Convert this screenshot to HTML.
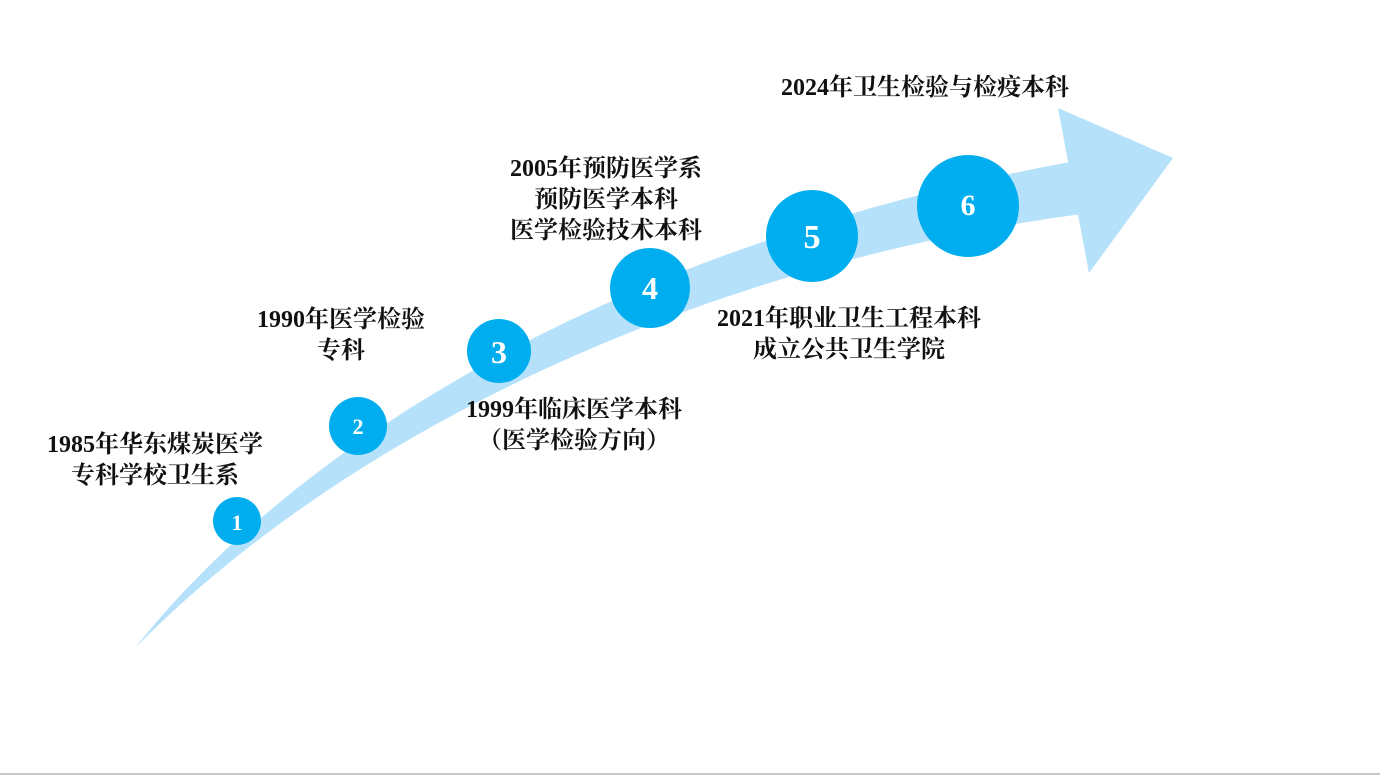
<!DOCTYPE html>
<html><head><meta charset="utf-8"><style>
html,body{margin:0;padding:0;background:#fff;}
#c{position:relative;width:1380px;height:777px;overflow:hidden;}
svg{position:absolute;left:0;top:0;}
.t{position:absolute;font-family:"Liberation Serif","Noto Serif CJK SC",serif;font-weight:bold;font-size:24px;line-height:31px;color:#111;text-align:center;white-space:nowrap;transform:translateX(-50%);}
</style></head><body><div id="c">
<svg width="1380" height="777">
<path d="M135,648 C300,440 620,245 1070,162 L1082,214 C720,262 360,420 135,648 Z" fill="#b5e1fb"/>
<polygon points="1058,108 1173,158 1089,273" fill="#b5e1fb"/>
<line x1="0" y1="774" x2="1380" y2="774" stroke="#c8c8c8" stroke-width="2"/>
<g fill="#00aeef">
<circle cx="237" cy="521" r="24"/>
<circle cx="358" cy="426" r="29"/>
<circle cx="499" cy="351" r="32"/>
<circle cx="650" cy="288" r="40"/>
<circle cx="812" cy="236" r="46"/>
<circle cx="968" cy="206" r="51"/>
</g>
<g fill="#fff" font-family="Liberation Serif,serif" font-weight="bold" text-anchor="middle">
<text x="237" y="530" font-size="22">1</text>
<text x="358" y="434" font-size="22">2</text>
<text x="499" y="363" font-size="32">3</text>
<text x="650" y="299" font-size="32">4</text>
<text x="812" y="248" font-size="34">5</text>
<text x="968" y="215" font-size="30">6</text>
</g>
</svg>
<div class="t" style="left:155px;top:430px">1985年华东煤炭医学<br>专科学校卫生系</div>
<div class="t" style="left:341px;top:305px">1990年医学检验<br>专科</div>
<div class="t" style="left:574px;top:395px">1999年临床医学本科<br>（医学检验方向）</div>
<div class="t" style="left:606px;top:154px">2005年预防医学系<br>预防医学本科<br>医学检验技术本科</div>
<div class="t" style="left:849px;top:304px">2021年职业卫生工程本科<br>成立公共卫生学院</div>
<div class="t" style="left:925px;top:73px">2024年卫生检验与检疫本科</div>
</div></body></html>
